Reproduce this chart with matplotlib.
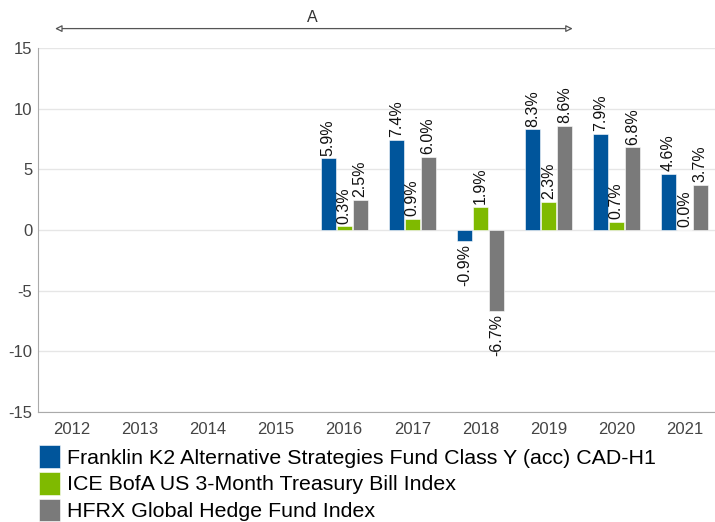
import numpy as np
import matplotlib.pyplot as plt

plt.rcParams['font.family'] = ['Liberation Sans', 'DejaVu Sans']
plt.rcParams['axes.unicode_minus'] = False

years = ['2012', '2013', '2014', '2015', '2016', '2017', '2018', '2019', '2020', '2021']
fund = [np.nan, np.nan, np.nan, np.nan, 5.9, 7.4, -0.9, 8.3, 7.9, 4.6]
tbill = [np.nan, np.nan, np.nan, np.nan, 0.3, 0.9, 1.9, 2.3, 0.7, 0.0]
hfrx = [np.nan, np.nan, np.nan, np.nan, 2.5, 6.0, -6.7, 8.6, 6.8, 3.7]
names = ['Franklin K2 Alternative Strategies Fund Class Y (acc) CAD-H1',
         'ICE BofA US 3-Month Treasury Bill Index',
         'HFRX Global Hedge Fund Index']
colors = ['#00559b', '#7fba00', '#7a7a7a']

fig = plt.figure(figsize=(7.15, 5.22), dpi=100)
ax = fig.add_axes([38/715, 1-412/522, 1-38/715, 364/522])

x = np.arange(len(years))
w = 0.22
handles = []
for i, (vals, c, nm) in enumerate(zip([fund, tbill, hfrx], colors, names)):
    pos = x + (i - 1) * 0.235
    b = ax.bar(pos, vals, w, color=c, edgecolor='white', linewidth=0.4, label=nm, zorder=3)
    handles.append(b)
    for p, v in zip(pos, vals):
        if np.isnan(v):
            continue
        if v >= 0:
            ax.annotate(f'{v:.1f}%', (p, v), xytext=(0, 2), textcoords='offset points',
                        rotation=90, ha='center', va='bottom', fontsize=11.5, color='#111')
        else:
            ax.annotate(f'{v:.1f}%', (p, v), xytext=(0, -2), textcoords='offset points',
                        rotation=90, ha='center', va='top', fontsize=11.5, color='#111')

ax.set_xlim(-0.5, 9.45)
ax.set_ylim(-15, 15)
ax.set_yticks([-15, -10, -5, 0, 5, 10, 15])
ax.set_xticks(x)
ax.set_xticklabels(years)
ax.tick_params(length=0, labelsize=12, labelcolor='#444')
ax.tick_params(axis='y', pad=4)
ax.tick_params(axis='x', pad=7)
ax.grid(axis='y', color='#e6e6e6', linewidth=1, zorder=0)
for s in ['top', 'right']:
    ax.spines[s].set_visible(False)
ax.spines['left'].set_color('#aaaaaa')
ax.spines['bottom'].set_color('#aaaaaa')

# period arrow
ax.annotate('', xy=(-0.29, 16.6), xytext=(7.4, 16.6), annotation_clip=False,
            arrowprops=dict(arrowstyle='<|-|>', color='#555', lw=0.9, fc='white', mutation_scale=10))
ax.text(3.53, 16.9, 'A', ha='center', va='bottom', fontsize=11.5, color='#333', clip_on=False)

fig.legend(handles=handles, labels=names, loc='upper left', bbox_to_anchor=(39/715, 1-445/522),
           frameon=False, fontsize=15.4, handlelength=0.98, handleheight=1.25,
           handletextpad=0.33, labelspacing=0.2, borderaxespad=0, borderpad=0)

fig.savefig('out.png', dpi=100)
